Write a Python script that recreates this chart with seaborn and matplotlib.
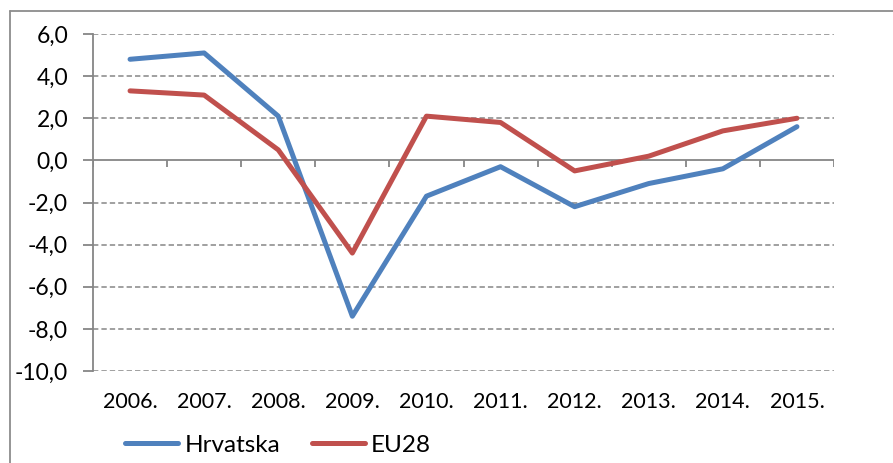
import matplotlib
matplotlib.use("Agg")
import matplotlib.pyplot as plt
from matplotlib.lines import Line2D
import seaborn as sns
import pandas as pd
import numpy as np

years = ["2006.", "2007.", "2008.", "2009.", "2010.", "2011.", "2012.", "2013.", "2014.", "2015."]
hrvatska = [4.8, 5.1, 2.1, -7.4, -1.7, -0.3, -2.2, -1.1, -0.4, 1.6]
eu28 = [3.3, 3.1, 0.5, -4.4, 2.1, 1.8, -0.5, 0.2, 1.4, 2.0]
series_names = ["Hrvatska", "EU28"]
yticks = [-10, -8, -6, -4, -2, 0, 2, 4, 6]

df = pd.DataFrame({
    "year": years * 2,
    "value": hrvatska + eu28,
    "series": [series_names[0]] * len(years) + [series_names[1]] * len(years),
})

sns.set_style("white")
plt.rcParams["font.family"] = ["Lato", "DejaVu Sans"]

W, H = 893, 463
fig = plt.figure(figsize=(W / 100, H / 100), dpi=100)
ax = fig.add_axes([93 / W, 1 - 371 / H, (834 - 93) / W, (371 - 34) / H])

grid_c = "#868686"
palette = {"Hrvatska": "#4F81BD", "EU28": "#C0504D"}
sns.lineplot(data=df, x="year", y="value", hue="series", palette=palette,
             linewidth=3.6, ax=ax, sort=False, legend=True)

ax.set_xlim(-0.5, len(years) - 0.5)
ax.set_ylim(-10, 6)
ax.set_yticks(yticks)
ax.set_yticklabels([f"{v:.1f}".replace(".", ",") for v in yticks])
ax.set_xticks(range(len(years)))
ax.set_xticklabels(years)
ax.set_xlabel("")
ax.set_ylabel("")

for v in yticks:
    if v != 0:
        ax.axhline(v, color=grid_c, lw=1.1, linestyle=(0, (3.5, 2)), zorder=0)
ax.axhline(0, color=grid_c, lw=1.3, zorder=1)
bounds = np.arange(len(years) + 1) - 0.5
ax.vlines(bounds, -0.33, 0, color=grid_c, lw=1.3, zorder=1)

for s in ["top", "right", "bottom"]:
    ax.spines[s].set_visible(False)
ax.spines["left"].set_color(grid_c)
ax.spines["left"].set_linewidth(1.3)

ax.tick_params(axis="y", which="major", length=7, width=1.3, color=grid_c,
               pad=11, labelsize=16.5, labelcolor="black", direction="out", left=True)
ax.tick_params(axis="x", length=0, pad=15, labelsize=15.5, labelcolor="black")

handles, labels = ax.get_legend_handles_labels()
ax.get_legend().remove()
fig.legend(handles, labels, loc="center", bbox_to_anchor=(278 / W, 1 - 445 / H),
           ncol=2, frameon=False, fontsize=17.5, handlelength=2.2,
           handletextpad=0.25, columnspacing=1.3, labelcolor="black")

border = "#8c8c8c"
fig.add_artist(Line2D([10 / W, 10 / W], [0, 1 - 11 / H], color=border, lw=1.3))
fig.add_artist(Line2D([10 / W, 1], [1 - 11 / H, 1 - 11 / H], color=border, lw=1.3))

fig.savefig("out.png", dpi=100)
